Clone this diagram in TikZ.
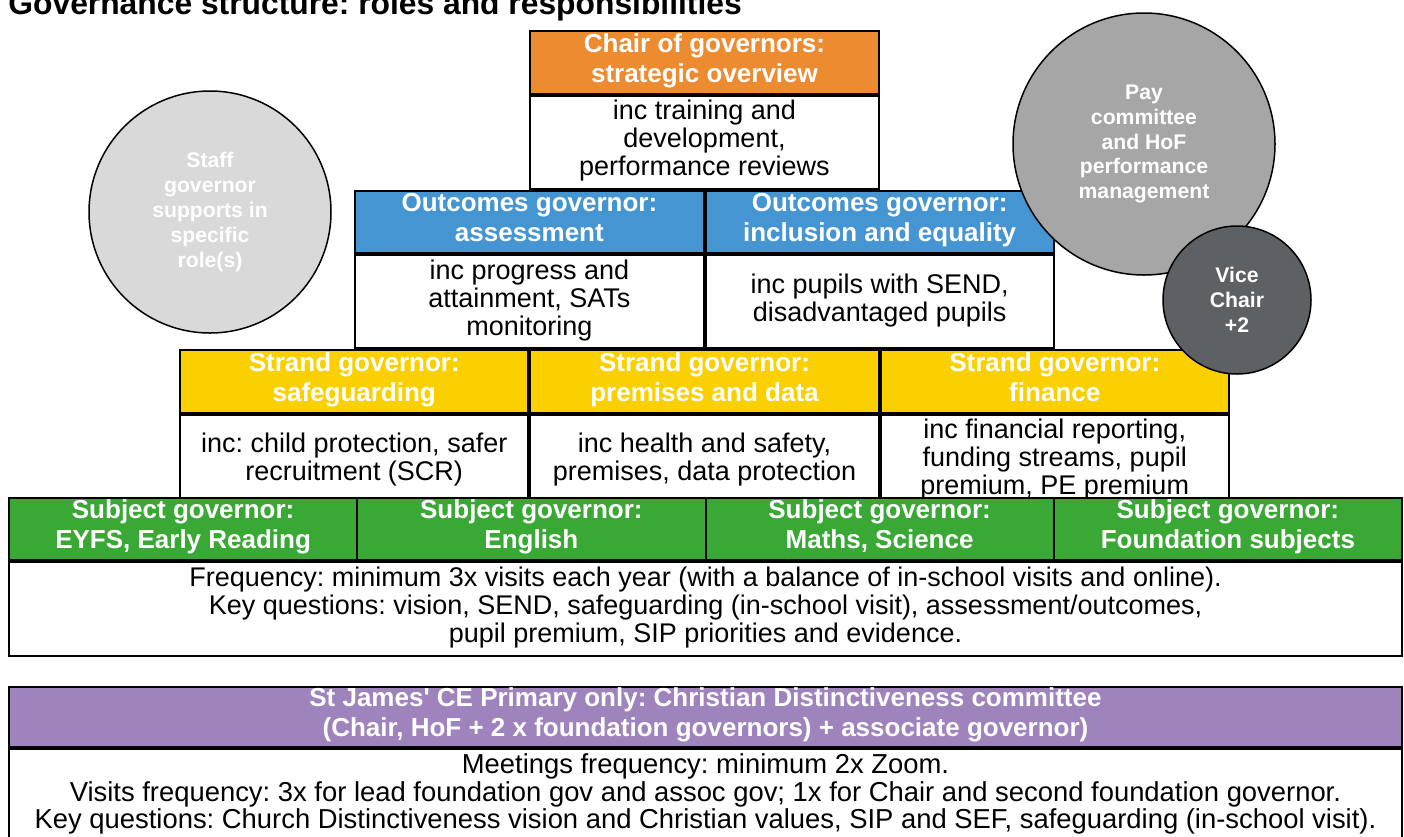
\documentclass[tikz,border=0pt]{standalone}
\usepackage{fontspec}
\setmainfont{Liberation Sans}
\usetikzlibrary{positioning}
\frenchspacing

\definecolor{chairorange}{RGB}{237,139,48}
\definecolor{outblue}{RGB}{68,149,209}
\definecolor{strandyellow}{RGB}{250,208,0}
\definecolor{subgreen}{RGB}{58,168,53}
\definecolor{cdpurple}{RGB}{158,131,188}
\definecolor{greylight}{RGB}{217,217,217}
\definecolor{greymid}{RGB}{166,166,166}
\definecolor{greydark}{RGB}{94,97,99}

\begin{document}
\begin{tikzpicture}[x=0.5pt,y=-0.5pt,
    cell/.style={draw, line width=1pt, minimum width=174.125pt, inner sep=0pt, align=center,
        execute at begin node=\strut, execute at end node=\strut},
    hdr/.style={cell, minimum height=31.25pt, text=white, font=\bfseries\fontsize{13}{15}\selectfont},
    txt/.style={cell, minimum height=46.5pt, fill=white, font=\fontsize{13.5}{14}\selectfont},
    blob/.style={draw, circle, line width=0.75pt, inner sep=0pt, text=white, align=center,
        font=\bfseries\fontsize{10.6}{12.4}\selectfont}]
    \useasboundingbox (0,0) rectangle (1404,836);

    % title, cut at the top edge
    \node[anchor=base west, inner sep=0pt, font=\bfseries\fontsize{15.9}{18}\selectfont] (title) at (8,14)
        {Governance structure: roles and responsibilities};

    % chair
    \node[hdr, fill=chairorange, anchor=north] (chairHead) at (704.5,30) {Chair of governors:\\strategic overview};
    \node[txt, below=0pt of chairHead] (chairBody) {inc training and\\development,\\performance reviews};

    % outcomes governors
    \node[hdr, fill=outblue, anchor=north east] (outAssessHead) at (chairBody.south) {Outcomes governor:\\assessment};
    \node[txt, below=0pt of outAssessHead] (outAssessBody) {inc progress and\\attainment, SATs\\monitoring};
    \node[hdr, fill=outblue, anchor=north west] (outInclHead) at (chairBody.south) {Outcomes governor:\\inclusion and equality};
    \node[txt, below=0pt of outInclHead] (outInclBody) {inc pupils with SEND,\\disadvantaged pupils};

    % strand governors
    \node[hdr, fill=strandyellow, anchor=north east] (strSafeHead) at (outAssessBody.south) {Strand governor:\\safeguarding};
    \node[txt, below=0pt of strSafeHead] (strSafeBody) {inc: child protection, safer\\recruitment (SCR)};
    \node[hdr, fill=strandyellow, anchor=north west] (strPremHead) at (outAssessBody.south) {Strand governor:\\premises and data};
    \node[txt, below=0pt of strPremHead] (strPremBody) {inc health and safety,\\premises, data protection};
    \node[hdr, fill=strandyellow, anchor=north west] (strFinHead) at (outInclBody.south) {Strand governor:\\finance};
    \node[txt, below=0pt of strFinHead] (strFinBody) {inc financial reporting,\\funding streams, pupil\\premium, PE premium};

    % subject governors
    \foreach \name/\label [count=\k from 0] in {subEyfs/{Subject governor:\\EYFS, Early Reading},
            subEng/{Subject governor:\\English}, subMaths/{Subject governor:\\Maths, Science},
            subFound/{Subject governor:\\Foundation subjects}} {
        \node[hdr, fill=subgreen, anchor=north west] (\name) at (8+348.25*\k,496.5) {\label};
    }
    \node[txt, minimum width=696.5pt, minimum height=47pt, anchor=north west] (subBody) at (subEyfs.south west)
        {Frequency: minimum 3x visits each year (with a balance of in-school visits and online).\\
         Key questions: vision, SEND, safeguarding (in-school visit), assessment/outcomes,\\
         pupil premium, SIP priorities and evidence.};

    % Christian Distinctiveness committee
    \node[hdr, fill=cdpurple, minimum width=696.5pt, minimum height=30pt, anchor=north west] (cdHead) at (8,686)
        {St James\textquotesingle\ CE Primary only: Christian Distinctiveness committee\\
         (Chair, HoF + 2 x foundation governors) + associate governor)};
    \node[txt, minimum width=696.5pt, font=\fontsize{13.7}{13.8}\selectfont, below=0pt of cdHead] (cdBody)
        {Meetings frequency: minimum 2x Zoom.\\
         Visits frequency: 3x for lead foundation gov and assoc gov; 1x for Chair and second foundation governor.\\
         Key questions: Church Distinctiveness vision and Christian values, SIP and SEF, safeguarding (in-school visit).};

    % circles on top
    \node[blob, fill=greylight, minimum size=121pt] (staffGov) at (210,212)
        {Staff\\governor\\supports in\\specific\\role(s)};
    \node[blob, fill=greymid, minimum size=131pt] (payCttee) at (1144,144)
        {Pay\\committee\\and HoF\\performance\\management};
    \node[blob, fill=greydark, minimum size=74pt] (viceChair) at (1237,300) {Vice\\Chair\\+2};
\end{tikzpicture}
\end{document}
